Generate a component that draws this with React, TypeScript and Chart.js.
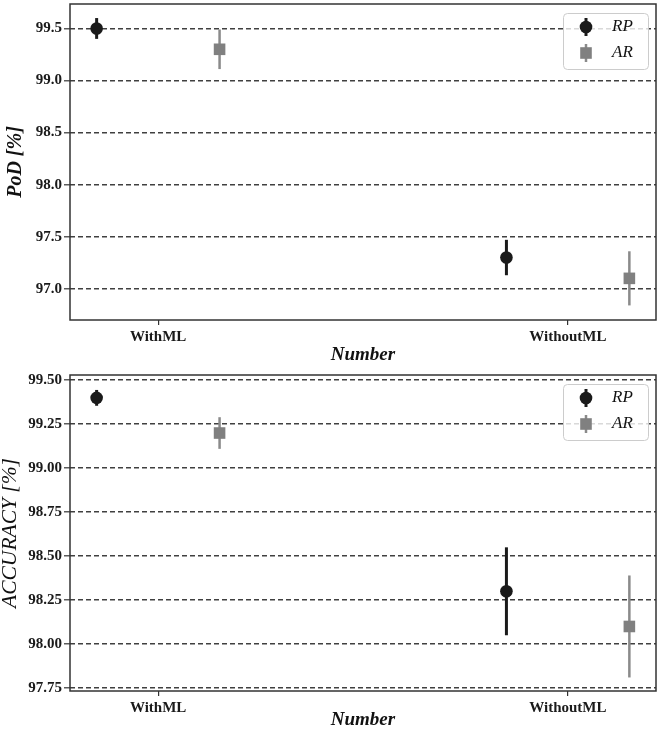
import React, { useEffect, useRef } from 'react';
import { Chart, registerables } from 'chart.js';

Chart.register(...registerables);

// ---- data ----
const categories = ['WithML', 'WithoutML'];
const seriesNames = ['RP', 'AR'];
const dodge = [-0.15, 0.15];

const podRP = [99.5, 97.3];
const podRPErr = [0.1, 0.17];
const podAR = [99.3, 97.1];
const podARErr = [0.19, 0.26];

const accRP = [99.4, 98.3];
const accRPErr = [0.045, 0.25];
const accAR = [99.2, 98.1];
const accARErr = [0.09, 0.29];

const podTicks = [97.0, 97.5, 98.0, 98.5, 99.0, 99.5];
const accTicks = [97.75, 98.0, 98.25, 98.5, 98.75, 99.0, 99.25, 99.5];

// ---- styling ----
const SERIF = "'Liberation Serif', 'Times New Roman', Times, serif";
const seriesStyle = [
  { color: '#1a1a1a', errColor: '#1a1a1a', errWidth: 3, pointStyle: 'circle', radius: 6.3 },
  { color: '#808080', errColor: '#8a8a8a', errWidth: 2.5, pointStyle: 'rect', radius: 8.2 },
];

type PanelSpec = {
  yTitle: string;
  yTitleFont: any;
  yTitlePad: number;
  values: number[][];
  errors: number[][];
  ticks: number[];
  decimals: number;
  yMin: number;
  yMax: number;
  height: number;
  padTop: number;
  xAxisHeight: number;
};

const panels: PanelSpec[] = [
  {
    yTitle: 'PoD [%]',
    yTitleFont: { family: SERIF, size: 20, weight: 'bold', style: 'italic', lineHeight: 1 },
    yTitlePad: 6,
    values: [podRP, podAR],
    errors: [podRPErr, podARErr],
    ticks: podTicks,
    decimals: 1,
    yMin: 96.7,
    yMax: 99.735,
    height: 366,
    padTop: 4,
    xAxisHeight: 46,
  },
  {
    yTitle: 'ACCURACY [%]',
    yTitleFont: { family: SERIF, size: 21.5, weight: 'normal', style: 'italic', lineHeight: 1 },
    yTitlePad: 0,
    values: [accRP, accAR],
    errors: [accRPErr, accARErr],
    ticks: accTicks,
    decimals: 2,
    yMin: 97.733,
    yMax: 99.53,
    height: 365,
    padTop: 9,
    xAxisHeight: 40,
  },
];

function drawMarker(ctx: CanvasRenderingContext2D, style: string, x: number, y: number, r: number) {
  ctx.beginPath();
  if (style === 'rect') {
    const s = r * Math.SQRT1_2;
    ctx.rect(x - s, y - s, 2 * s, 2 * s);
  } else {
    ctx.arc(x, y, r, 0, Math.PI * 2);
  }
  ctx.fill();
}

// vertical error bars, drawn through the chart's own scales
const errorBarPlugin = {
  id: 'errorBars',
  beforeDatasetsDraw(chart: any) {
    const { ctx, scales } = chart;
    const xs = scales.x;
    const ys = scales.y;
    ctx.save();
    ctx.beginPath();
    ctx.rect(chart.chartArea.left, chart.chartArea.top, chart.chartArea.width, chart.chartArea.height);
    ctx.clip();
    chart.data.datasets.forEach((ds: any, i: number) => {
      const st = seriesStyle[i];
      ctx.strokeStyle = st.errColor;
      ctx.lineWidth = st.errWidth;
      ctx.lineCap = 'butt';
      ds.data.forEach((p: any) => {
        const x = xs.getPixelForValue(p.x);
        ctx.beginPath();
        ctx.moveTo(x, ys.getPixelForValue(p.y + p.err));
        ctx.lineTo(x, ys.getPixelForValue(p.y - p.err));
        ctx.stroke();
      });
    });
    ctx.restore();
  },
};

// full box around the plotting area
const framePlugin = {
  id: 'frame',
  afterDatasetsDraw(chart: any) {
    const { ctx, chartArea: a } = chart;
    ctx.save();
    ctx.strokeStyle = '#333333';
    ctx.lineWidth = 1.5;
    ctx.strokeRect(a.left, a.top, a.width, a.height);
    ctx.restore();
  },
};

// legend box in the upper-right corner of the plotting area
const cornerLegendPlugin = {
  id: 'cornerLegend',
  afterDraw(chart: any) {
    const { ctx, chartArea: a } = chart;
    const w = 85;
    const h = 56;
    const right = a.right - 8;
    const left = right - w;
    const top = a.top + 9;
    ctx.save();
    ctx.fillStyle = 'rgba(255,255,255,0.8)';
    ctx.strokeStyle = '#cccccc';
    ctx.lineWidth = 1;
    ctx.beginPath();
    (ctx as any).roundRect(left + 0.5, top + 0.5, w, h, 4);
    ctx.fill();
    ctx.stroke();
    chart.data.datasets.forEach((ds: any, i: number) => {
      const st = seriesStyle[i];
      const cy = top + 14 + i * 26;
      const mx = left + 23;
      ctx.strokeStyle = st.errColor;
      ctx.lineWidth = st.errWidth;
      ctx.beginPath();
      ctx.moveTo(mx, cy - 9);
      ctx.lineTo(mx, cy + 9);
      ctx.stroke();
      ctx.fillStyle = st.color;
      drawMarker(ctx, st.pointStyle, mx, cy, st.radius);
      ctx.fillStyle = '#111111';
      ctx.font = `italic 17px ${SERIF}`;
      ctx.textBaseline = 'middle';
      ctx.textAlign = 'left';
      ctx.fillText(ds.label, left + 49, cy);
    });
    ctx.restore();
  },
};

function Panel({ spec }: { spec: PanelSpec }) {
  const ref = useRef<HTMLCanvasElement | null>(null);

  useEffect(() => {
    if (!ref.current) return;
    const datasets = seriesNames.map((name, s) => ({
      type: 'scatter' as const,
      label: name,
      data: categories.map((_, c) => ({
        x: c + dodge[s],
        y: spec.values[s][c],
        err: spec.errors[s][c],
      })),
      pointStyle: seriesStyle[s].pointStyle,
      pointRadius: seriesStyle[s].radius,
      pointHoverRadius: seriesStyle[s].radius,
      pointBackgroundColor: seriesStyle[s].color,
      pointBorderColor: seriesStyle[s].color,
      pointBorderWidth: 0,
      showLine: false,
    }));

    const chart = new Chart(ref.current, {
      type: 'scatter',
      data: { datasets },
      options: {
        animation: false,
        responsive: false,
        devicePixelRatio: 1,
        events: [],
        layout: {
          autoPadding: false,
          padding: { top: spec.padTop, right: 3, left: 0, bottom: 0 },
        },
        plugins: { legend: { display: false }, tooltip: { enabled: false } },
        scales: {
          x: {
            type: 'linear',
            min: -0.215,
            max: 1.215,
            offset: false,
            afterBuildTicks: (s: any) => {
              s.ticks = categories.map((_, i) => ({ value: i }));
            },
            afterFit: (s: any) => {
              s.height = spec.xAxisHeight;
              s.paddingLeft = 0;
              s.paddingRight = 0;
            },
            grid: {
              drawOnChartArea: false,
              drawTicks: true,
              tickLength: 5,
              color: '#333333',
              lineWidth: 1.2,
            },
            border: { display: false },
            ticks: {
              padding: 3,
              color: '#1a1a1a',
              autoSkip: false,
              maxRotation: 0,
              font: { family: SERIF, size: 15, weight: 'bold' },
              callback: (_v: any, i: number) => categories[i],
            },
            title: {
              display: true,
              text: 'Number',
              color: '#111111',
              font: { family: SERIF, size: 19, weight: 'bold', style: 'italic', lineHeight: 1 },
              padding: { top: 0, bottom: 1.5 },
            },
          },
          y: {
            type: 'linear',
            min: spec.yMin,
            max: spec.yMax,
            afterBuildTicks: (s: any) => {
              s.ticks = spec.ticks.map((v) => ({ value: v }));
            },
            afterFit: (s: any) => {
              s.width = 70;
              s.paddingTop = 0;
              s.paddingBottom = 0;
            },
            grid: {
              color: '#404040',
              lineWidth: 1.6,
              drawTicks: true,
              tickLength: 6,
              tickColor: '#333333',
              tickWidth: 1.2,
            },
            border: { display: false, dash: [5, 3] },
            ticks: {
              padding: 2,
              color: '#1a1a1a',
              autoSkip: false,
              font: { family: SERIF, size: 15, weight: 'bold' },
              callback: (v: any) => Number(v).toFixed(spec.decimals),
            },
            title: {
              display: true,
              text: spec.yTitle,
              color: '#111111',
              font: spec.yTitleFont,
              padding: { top: spec.yTitlePad, bottom: 0 },
            },
          },
        },
      } as any,
      plugins: [errorBarPlugin, framePlugin, cornerLegendPlugin],
    });
    return () => chart.destroy();
  }, [spec]);

  return <canvas ref={ref} width={659} height={spec.height} style={{ display: 'block', width: 659, height: spec.height }} />;
}

export default function App() {
  return (
    <div style={{ position: 'fixed', left: 0, top: 0, width: 659, height: 731, background: '#ffffff' }}>
      {panels.map((p, i) => (
        <Panel key={i} spec={p} />
      ))}
    </div>
  );
}
